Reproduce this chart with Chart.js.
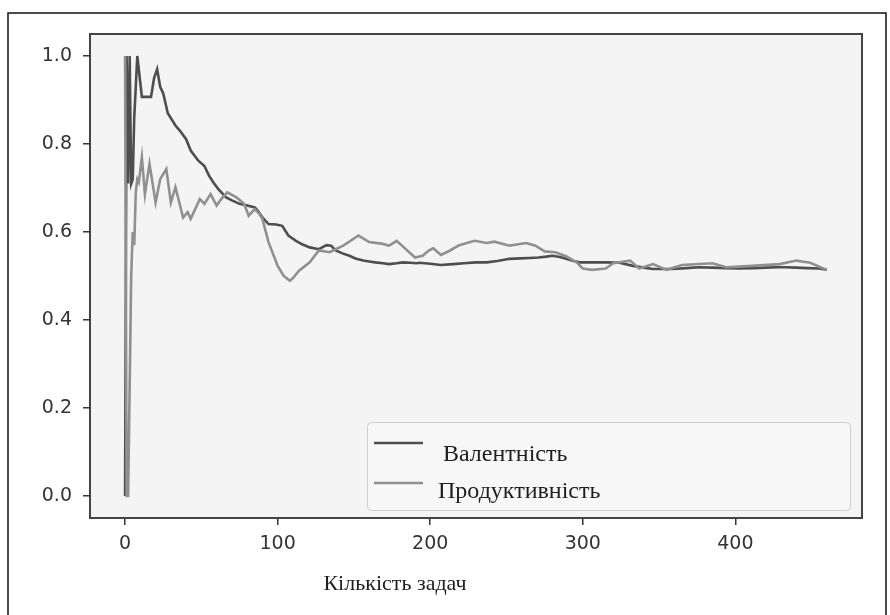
<!DOCTYPE html>
<html lang="uk">
<head>
  <meta charset="UTF-8" />
  <title>Валентність / Продуктивність</title>
  <script src="https://cdn.jsdelivr.net/npm/chart.js"></script>
  <style>
    html, body {
      margin: 0;
      background: #ffffff;
    }
    #wrap {
      position: relative;
      width: 890px;
      height: 615px;
    }
  </style>
</head>
<body>
  <div id="wrap">
    <canvas id="chart" width="890" height="615"></canvas>
  </div>

  <script>
    // Валентність (dark line)
    const valX = [0, 1, 2, 3, 4, 5, 6, 8, 11, 17, 19, 21, 23, 25, 28, 33, 36, 40, 43, 48,
      52, 55, 58, 61, 66, 70, 75, 80, 85, 87, 90, 94, 99, 103, 107, 112, 116, 121, 127, 132,
      135, 138, 142, 147, 151, 156, 160, 164, 169, 173, 178, 182, 187, 191, 193, 200, 207, 215, 222, 230,
      237, 244, 252, 259, 265, 271, 276, 280, 285, 289, 294, 298, 305, 315, 324, 333, 340, 346, 352, 359,
      368, 376, 385, 394, 403, 412, 420, 428, 433, 440, 447, 455, 460];
    const valY = [0.0, 1.0, 0.71, 1.0, 0.71, 0.72, 0.86, 1.0, 0.907, 0.907, 0.95, 0.97, 0.93, 0.915, 0.87, 0.842, 0.83, 0.811, 0.785, 0.762,
      0.75, 0.728, 0.712, 0.698, 0.679, 0.672, 0.664, 0.66, 0.656, 0.648, 0.633, 0.618, 0.617, 0.614, 0.592, 0.58, 0.572, 0.565, 0.561, 0.57,
      0.569, 0.558, 0.552, 0.546, 0.54, 0.535, 0.533, 0.531, 0.529, 0.527, 0.529, 0.531, 0.53, 0.529, 0.53, 0.528, 0.525, 0.527, 0.529, 0.531,
      0.531, 0.534, 0.539, 0.54, 0.541, 0.542, 0.544, 0.546, 0.543, 0.539, 0.534, 0.531, 0.531, 0.531, 0.53, 0.523, 0.519, 0.516, 0.516, 0.516,
      0.518, 0.52, 0.519, 0.518, 0.517, 0.518, 0.519, 0.52, 0.52, 0.519, 0.518, 0.517, 0.514];

    // Продуктивність (light line)
    const prodX = [0, 1, 2, 4, 5, 6, 7, 8, 9, 11, 13, 16, 20, 23, 27, 30, 33, 38, 41, 43,
      49, 52, 56, 60, 63, 67, 73, 78, 81, 85, 88, 90, 94, 100, 104, 108, 110, 114, 121, 127,
      134, 143, 153, 160, 169, 173, 178, 184, 190, 195, 199, 202, 207, 213, 219, 229, 237, 242, 252, 263,
      269, 275, 282, 289, 296, 300, 306, 315, 320, 331, 337, 346, 355, 365, 385, 394, 411, 429, 440, 449, 460];
    const prodY = [1.0, 0.0, 0.0, 0.5, 0.6, 0.57, 0.69, 0.72, 0.713, 0.77, 0.686, 0.755, 0.667, 0.72, 0.743, 0.667, 0.702, 0.633, 0.645, 0.63,
      0.675, 0.664, 0.686, 0.66, 0.675, 0.69, 0.679, 0.664, 0.637, 0.652, 0.641, 0.63, 0.577, 0.523, 0.5, 0.489, 0.495, 0.512, 0.531, 0.558,
      0.554, 0.569, 0.592, 0.577, 0.573, 0.569, 0.58, 0.561, 0.542, 0.546, 0.558, 0.563, 0.548, 0.558, 0.57, 0.58, 0.575, 0.578, 0.569, 0.575,
      0.569, 0.556, 0.554, 0.545, 0.531, 0.517, 0.514, 0.517, 0.529, 0.535, 0.517, 0.527, 0.514, 0.525, 0.529, 0.52, 0.523, 0.527, 0.535, 0.53, 0.514];

    const seriesNames = ["Валентність", "Продуктивність"];
    const seriesColors = ["#4e4e4e", "#909090"];
    const xTicks = [0, 100, 200, 300, 400];
    const yTicks = [0.0, 0.2, 0.4, 0.6, 0.8, 1.0];
    const xTitle = "Кількість задач";

    const toPoints = (xs, ys) => xs.map((x, i) => ({ x: x, y: ys[i] }));

    // page frame, plot background and box
    const framePlugin = {
      id: "frame",
      beforeDraw(chart) {
        const { ctx, chartArea: a } = chart;
        ctx.save();
        ctx.strokeStyle = "#111";
        ctx.lineWidth = 1.5;
        ctx.beginPath();
        ctx.moveTo(8, 620);
        ctx.lineTo(8, 13);
        ctx.lineTo(886, 13);
        ctx.lineTo(886, 620);
        ctx.stroke();
        ctx.fillStyle = "#f4f4f4";
        ctx.fillRect(a.left, a.top, a.right - a.left, a.bottom - a.top);
        ctx.restore();
      },
      afterDraw(chart) {
        const { ctx, chartArea: a } = chart;
        ctx.save();
        ctx.strokeStyle = "#444";
        ctx.lineWidth = 2;
        ctx.strokeRect(a.left, a.top, a.right - a.left, a.bottom - a.top);

        // legend box
        ctx.fillStyle = "#f7f7f7";
        ctx.strokeStyle = "#cfcfcf";
        ctx.lineWidth = 1;
        ctx.beginPath();
        ctx.roundRect(367.5, 422.5, 483, 88, 4);
        ctx.fill();
        ctx.stroke();

        const rows = [443, 483];
        const textX = [443, 438];
        ctx.font = "24px 'Liberation Serif', serif";
        ctx.textBaseline = "alphabetic";
        rows.forEach((y, i) => {
          ctx.strokeStyle = seriesColors[i];
          ctx.lineWidth = 2.6;
          ctx.beginPath();
          ctx.moveTo(374, y);
          ctx.lineTo(423, y);
          ctx.stroke();
          ctx.fillStyle = "#1e1e1e";
          ctx.fillText(seriesNames[i], textX[i], y + 18 - i * 3);
        });

        // axis title
        ctx.font = "22px 'Liberation Serif', serif";
        ctx.textAlign = "center";
        ctx.fillStyle = "#1e1e1e";
        ctx.fillText(xTitle, 395, 590);
        ctx.restore();
      }
    };

    new Chart(document.getElementById("chart"), {
      type: "line",
      data: {
        datasets: [
          {
            label: seriesNames[0],
            data: toPoints(valX, valY),
            borderColor: seriesColors[0],
            borderWidth: 2.6,
            pointRadius: 0,
            tension: 0,
            order: 1
          },
          {
            label: seriesNames[1],
            data: toPoints(prodX, prodY),
            borderColor: seriesColors[1],
            borderWidth: 2.6,
            pointRadius: 0,
            tension: 0,
            order: 0
          }
        ]
      },
      options: {
        responsive: false,
        animation: false,
        layout: { padding: { left: 0, top: 34, right: 28, bottom: 0 } },
        plugins: {
          legend: { display: false },
          tooltip: { enabled: false }
        },
        scales: {
          x: {
            type: "linear",
            min: -23,
            max: 483,
            afterFit: s => { s.height = 97; },
            afterBuildTicks: s => { s.ticks = xTicks.map(v => ({ value: v })); },
            grid: { drawOnChartArea: false, drawTicks: true, tickLength: 7, color: "#333", lineWidth: 1.5 },
            border: { display: false },
            ticks: {
              padding: 8,
              color: "#333",
              font: { family: "'DejaVu Sans', sans-serif", size: 19 },
              callback: v => String(v)
            }
          },
          y: {
            min: -0.05,
            max: 1.05,
            afterFit: s => { s.width = 90; },
            afterBuildTicks: s => { s.ticks = yTicks.map(v => ({ value: v })); },
            grid: { drawOnChartArea: false, drawTicks: true, tickLength: 7, color: "#333", lineWidth: 1.5 },
            border: { display: false },
            ticks: {
              padding: 11,
              color: "#333",
              font: { family: "'DejaVu Sans', sans-serif", size: 19 },
              callback: v => v.toFixed(1)
            }
          }
        }
      },
      plugins: [framePlugin]
    });
  </script>
</body>
</html>
